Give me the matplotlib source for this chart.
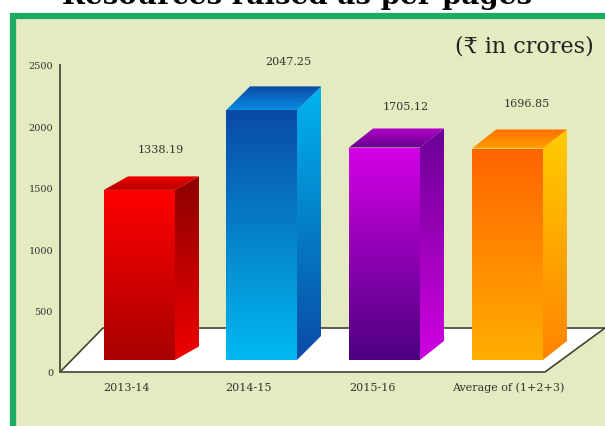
import numpy as np
import matplotlib
matplotlib.use('Agg')
import matplotlib.pyplot as plt
from matplotlib.colors import LinearSegmentedColormap
from matplotlib.patches import Polygon, Rectangle

plt.rcParams['font.family'] = ['DejaVu Serif', 'DejaVu Sans']

categories = ['2013-14', '2014-15', '2015-16', 'Average of (1+2+3)']
value_labels = ['1338.19', '2047.25', '1705.12', '1696.85']
# heights as drawn in the picture, the bars are not quite to scale with the axis
drawn_heights = [1385, 2033, 1730, 1722]
depth_y = [110, 195, 155, 155]
y_ticks = [0, 500, 1000, 1500, 2000, 2500]

front_colors = [('#ff0000', '#a80000'), ('#0a4aa5', '#00b8f0'), ('#d400e6', '#4c0080'), ('#ff6400', '#ffae00')]
side_colors = [('#8c0000', '#f00000'), ('#00b4ee', '#0a4aa5'), ('#6a0095', '#d000e0'), ('#ffcc00', '#ff8400')]
# back edge first, then front edge
top_colors = [('#f00000', '#b80000'), ('#0a4aa5', '#0a8ce4'), ('#b000c8', '#66008f'), ('#ff7000', '#ffa000')]

W, H = 605, 427
BG = '#e4ebc1'
GREEN = '#1cab62'
BASE = 98      # front of the bars sits this far up the floor
SCALE = 307 / 2500  # pixels per unit on the axis


def shade(ax, pts, colors):
    # gradient filled polygon
    pts = np.array(pts, dtype=float)
    cmap = LinearSegmentedColormap.from_list('g', colors)
    grad = np.linspace(0, 1, 128).reshape(-1, 1)
    im = ax.imshow(grad, cmap=cmap, aspect='auto', zorder=3,
                   extent=[pts[:, 0].min(), pts[:, 0].max(), pts[:, 1].min(), pts[:, 1].max()],
                   origin='upper')
    im.set_clip_path(Polygon(pts, closed=True, transform=ax.transData))


fig = plt.figure(figsize=(W / 100, H / 100), dpi=100, facecolor='white')

# panel with green border
bg = fig.add_axes([0, 0, 1, 1])
bg.set_xlim(0, W)
bg.set_ylim(H, 0)
bg.axis('off')
bg.add_patch(Rectangle((12.5, 17), W, H, facecolor=BG, edgecolor=GREEN, linewidth=4.5))
# title is cut off by the top edge in the reference too
bg.text(297, 4, 'Resources raised as per pages', ha='center', va='baseline', fontsize=20,
        fontweight='bold', color='black')
bg.text(594, 46, '(₹ in crores)', ha='right', va='center', fontsize=16, color='#222222')

# axes in value units, x in pixels so the floor and bars line up
ax = fig.add_axes([0, (H - 373) / H, 1, 307 / H])
ax.set_xlim(0, W)
ax.set_ylim(0, 2500)
ax.patch.set_alpha(0)
for name in ['top', 'right', 'bottom']:
    ax.spines[name].set_visible(False)
ax.spines['left'].set_position(('data', 60))
ax.spines['left'].set_color('#555544')
ax.spines['left'].set_linewidth(1.4)
ax.set_xticks([])
ax.set_yticks(y_ticks)
ax.tick_params(axis='y', length=0, pad=5, labelsize=7, labelcolor='#333333')
ax.autoscale(False)

# floor
ax.add_patch(Polygon([(60, 0), (545, 0), (605, 44 / SCALE), (103, 44 / SCALE)], closed=True,
                     facecolor='white', edgecolor='#444433', linewidth=1.2, zorder=1, clip_on=False))

bar_x = [104, 226, 349, 472]
bar_w = 71
bar_dx = 24
for i, h in enumerate(drawn_heights):
    x0, x1 = bar_x[i], bar_x[i] + bar_w
    y0, y1 = BASE, BASE + h
    d = depth_y[i]
    shade(ax, [(x1, y0), (x1 + bar_dx, y0 + d), (x1 + bar_dx, y1 + d), (x1, y1)], side_colors[i])
    shade(ax, [(x0, y1), (x1, y1), (x1 + bar_dx, y1 + d), (x0 + bar_dx, y1 + d)], top_colors[i])
    shade(ax, [(x0, y0), (x1, y0), (x1, y1), (x0, y1)], front_colors[i])

label_pos = [(161, 150), (288, 62), (406, 107), (527, 104)]
for (px, py), t in zip(label_pos, value_labels):
    bg.text(px, py, t, ha='center', va='center', fontsize=8, color='#333333', zorder=5)

cat_x = [126, 248, 372, 508]
for px, t in zip(cat_x, categories):
    bg.text(px, 388, t, ha='center', va='center', fontsize=8, color='#333333', zorder=5)

fig.savefig('out.png', dpi=100, facecolor='white')
